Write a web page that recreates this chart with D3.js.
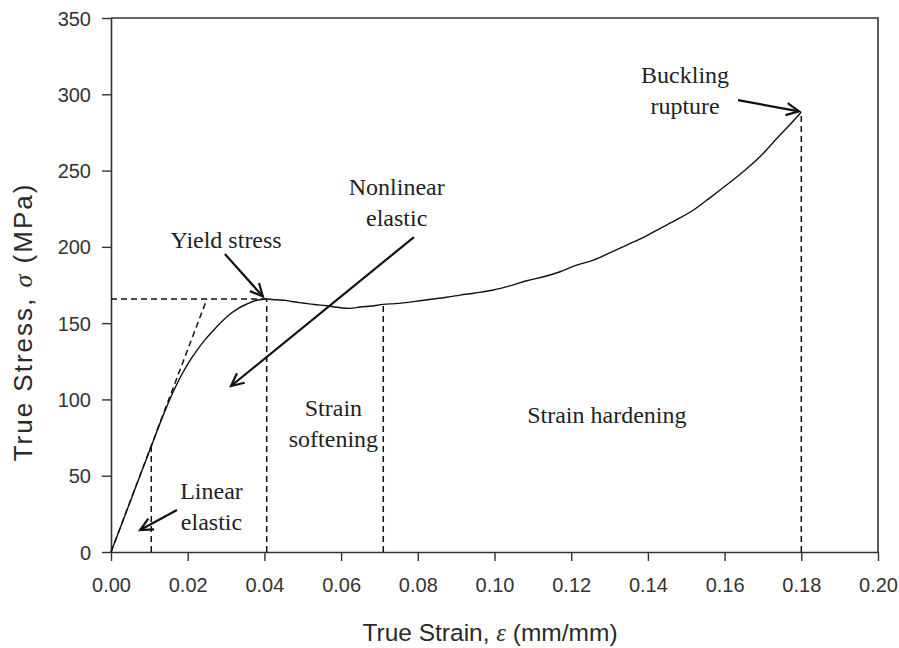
<!DOCTYPE html>
<html>
<head>
<meta charset="utf-8">
<script src="https://cdn.jsdelivr.net/npm/d3@7"></script>
<style>
  html, body { margin: 0; padding: 0; background: #fff; }
  svg { display: block; }
</style>
</head>
<body>
<svg id="chart" width="899" height="648"></svg>
<script>
// ---------------- DATA ----------------
const strain = [0.0000, 0.0050, 0.0100, 0.0140, 0.0165, 0.0185, 0.0202, 0.0225, 0.0245,
                0.0268, 0.0289, 0.0310, 0.0332, 0.0355, 0.0375, 0.0397, 0.0406, 0.0430, 0.0455,
                0.0475, 0.0500, 0.0530, 0.0562, 0.0590, 0.0623, 0.0650, 0.0680, 0.0710, 0.0740,
                0.0775, 0.0806, 0.0840, 0.0875, 0.0910, 0.0950, 0.0997, 0.1040, 0.1084, 0.1130,
                0.1171, 0.1214, 0.1258, 0.1300, 0.1345, 0.1390, 0.1432, 0.1475, 0.1518, 0.1560,
                0.1605, 0.1650, 0.1692, 0.1736, 0.1770, 0.1800];
const stress = [0.0, 33.0, 66.0, 92.0, 106.5, 116.5, 124.0, 132.5, 139.0,
                145.5, 151.0, 155.8, 159.7, 162.6, 164.7, 165.6, 165.8, 165.3, 164.9,
                164.0, 163.2, 162.2, 161.4, 160.4, 159.7, 160.6, 161.2, 162.3, 162.8,
                163.6, 164.7, 165.8, 167.0, 168.4, 169.8, 171.7, 174.4, 177.8, 180.6,
                183.7, 188.0, 191.3, 196.0, 201.2, 206.4, 212.1, 217.8, 224.0, 231.8,
                240.5, 249.5, 259.0, 271.0, 280.0, 288.4];

const xTicks = [0.00, 0.02, 0.04, 0.06, 0.08, 0.10, 0.12, 0.14, 0.16, 0.18, 0.20];
const yTicks = [0, 50, 100, 150, 200, 250, 300, 350];

// characteristic points (strain, stress)
const yieldPoint = [0.0406, 165.8];
const elasticLimit = [0.0105, 69.0];
const softeningEnd = [0.0710, 162.3];
const rupturePoint = [0.1800, 288.4];
const tangentTop = [0.0250, 165.8];

// annotation labels: [text lines], anchor (strain, stress)
const labels = [
  { lines: ["Yield stress"], at: [0.0300, 204.5] },
  { lines: ["Nonlinear", "elastic"], at: [0.0745, 229.5] },
  { lines: ["Strain", "softening"], at: [0.0580, 84.5] },
  { lines: ["Strain hardening"], at: [0.1293, 89.8] },
  { lines: ["Linear", "elastic"], at: [0.0262, 30.0] },
  { lines: ["Buckling", "rupture"], at: [0.1497, 303.0] }
];
// arrows: from (strain, stress) to (strain, stress)
const arrows = [
  { from: [0.0297, 195.3], to: [0.0396, 167.5] },
  { from: [0.0790, 206.4], to: [0.0313, 108.8] },
  { from: [0.0172, 27.5], to: [0.0076, 14.4] },
  { from: [0.1635, 296.2], to: [0.1794, 288.8] }
];

// ---------------- LAYOUT ----------------
const svg = d3.select("#chart");
const margin = { left: 111, top: 18, right: 21, bottom: 96 };
const W = 899, H = 648;
const x = d3.scaleLinear().domain([0, 0.20]).range([margin.left, W - margin.right]);
const y = d3.scaleLinear().domain([0, 350]).range([H - margin.bottom, margin.top]);

const axisColor = "#333";
const textColor = "#2a2a2a";

// frame (top + right)
svg.append("path")
  .attr("d", `M${x(0)},${y(350)} H${x(0.20)} V${y(0)}`)
  .attr("fill", "none").attr("stroke", axisColor).attr("stroke-width", 1.6);

// axes
const xAxis = d3.axisBottom(x).tickValues(xTicks).tickFormat(d3.format(".2f")).tickSize(9).tickSizeOuter(0);
const yAxis = d3.axisLeft(y).tickValues(yTicks).tickFormat(d3.format("d")).tickSize(9).tickSizeOuter(0);

const gx = svg.append("g").attr("transform", `translate(0,${y(0)})`).call(xAxis);
const gy = svg.append("g").attr("transform", `translate(${x(0)},0)`).call(yAxis);
[gx, gy].forEach(g => {
  g.select(".domain").attr("stroke", axisColor).attr("stroke-width", 1.6);
  g.selectAll(".tick line").attr("stroke", axisColor).attr("stroke-width", 1.4);
  g.selectAll(".tick text").attr("fill", "#333")
    .style("font-family", "'Liberation Sans', Arial, sans-serif").style("font-size", "20px");
});
gx.selectAll(".tick text").attr("y", 26).attr("dy", "0.71em").attr("dy", null)
  .attr("y", 40);
gy.selectAll(".tick text").attr("x", -20).attr("dy", "0.35em");

// axis titles
const xt = svg.append("text")
  .attr("x", 490).attr("y", 641)
  .attr("text-anchor", "middle").attr("fill", textColor)
  .style("font-family", "'Liberation Sans', Arial, sans-serif").style("font-size", "24.5px");
xt.append("tspan").text("True Strain, ");
xt.append("tspan").text("ε").style("font-family", "'Liberation Serif', serif").style("font-style", "italic");
xt.append("tspan").text(" (mm/mm)");

const yt = svg.append("text")
  .attr("transform", `translate(32,322) rotate(-90)`)
  .attr("text-anchor", "middle").attr("fill", textColor)
  .style("font-family", "'Liberation Sans', Arial, sans-serif").style("font-size", "26px")
  .style("letter-spacing", "2px");
yt.append("tspan").text("True Stress, ");
yt.append("tspan").text("σ").style("font-family", "'Liberation Serif', serif").style("font-style", "italic");
yt.append("tspan").text(" (MPa)");

// dashed guide lines
const dash = "6,4";
const guides = [
  [[0, yieldPoint[1]], yieldPoint],
  [[0, 0], tangentTop],
  [[elasticLimit[0], 0], elasticLimit],
  [[yieldPoint[0], 0], yieldPoint],
  [[softeningEnd[0], 0], softeningEnd],
  [[rupturePoint[0], 0], rupturePoint]
];
svg.append("g").selectAll("line").data(guides).join("line")
  .attr("x1", d => x(d[0][0])).attr("y1", d => y(d[0][1]))
  .attr("x2", d => x(d[1][0])).attr("y2", d => y(d[1][1]))
  .attr("stroke", "#111").attr("stroke-width", 1.5).attr("stroke-dasharray", dash);

// curve
const pts = strain.map((s, i) => [s, stress[i]]);
svg.append("path")
  .datum(pts)
  .attr("d", d3.line().x(d => x(d[0])).y(d => y(d[1])).curve(d3.curveMonotoneX))
  .attr("fill", "none").attr("stroke", "#111").attr("stroke-width", 1.4);

// arrows
const ag = svg.append("g");
arrows.forEach(a => {
  const x1 = x(a.from[0]), y1 = y(a.from[1]), x2 = x(a.to[0]), y2 = y(a.to[1]);
  const ang = Math.atan2(y2 - y1, x2 - x1);
  const L = 14, spread = 0.45;
  const p1 = [x2 - L * Math.cos(ang - spread), y2 - L * Math.sin(ang - spread)];
  const p2 = [x2 - L * Math.cos(ang + spread), y2 - L * Math.sin(ang + spread)];
  ag.append("line").attr("x1", x1).attr("y1", y1).attr("x2", x2).attr("y2", y2)
    .attr("stroke", "#111").attr("stroke-width", 2.2);
  ag.append("path").attr("d", `M${p1[0]},${p1[1]} L${x2},${y2} L${p2[0]},${p2[1]}`)
    .attr("fill", "none").attr("stroke", "#111").attr("stroke-width", 2.2)
    .attr("stroke-linejoin", "miter");
});

// labels
const lg = svg.append("g");
labels.forEach(l => {
  const n = l.lines.length, lh = 31;
  const t = lg.append("text")
    .attr("x", x(l.at[0])).attr("y", y(l.at[1]) - (n - 1) * lh / 2)
    .attr("text-anchor", "middle").attr("fill", "#1f1f1f")
    .style("font-family", "'Liberation Serif', 'Times New Roman', serif").style("font-size", "24px");
  l.lines.forEach((s, i) => {
    t.append("tspan").attr("x", x(l.at[0])).attr("dy", i === 0 ? "0.35em" : lh).text(s);
  });
});
</script>
</body>
</html>
